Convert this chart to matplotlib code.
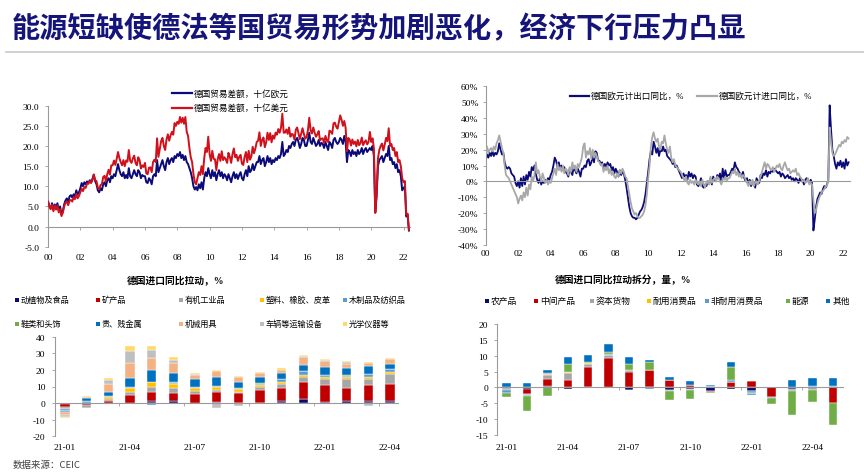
import numpy as np
import matplotlib
matplotlib.use("Agg")
import matplotlib.pyplot as plt
from matplotlib.lines import Line2D
from matplotlib.patches import Rectangle
from matplotlib.ticker import FuncFormatter

plt.rcParams['font.family'] = ['Liberation Serif', 'Noto Sans CJK SC']
plt.rcParams['axes.unicode_minus'] = False

W, H = 864, 477

# ---- top left: trade balance, monthly from 2000-01 ----
trade_eur = [
    6.4, 5.0, 4.5, 5.8, 4.2, 5.5, 4.5, 5.8, 4.0, 5.0, 3.0, 3.8,
    5.5, 6.5, 7.0, 6.0, 7.5, 7.8, 7.2, 8.0, 7.5, 9.0, 8.0, 8.5,
    9.5, 10.8, 10.0, 11.0, 10.5, 11.2, 10.8, 11.5, 11.0, 11.8, 12.9, 11.3,
    10.5, 9.0, 8.5, 9.5, 9.0, 10.5, 11.0, 10.0, 11.5, 12.0, 11.0, 12.5,
    12.0, 13.0, 12.5, 14.0, 15.5, 14.0, 13.0, 12.5, 13.5, 12.0, 12.8, 12.0,
    14.5, 12.5, 12.0, 13.0, 14.0, 13.0, 12.5, 14.0, 13.5, 12.0, 12.8, 12.5,
    12.5, 11.0, 10.8, 12.0, 11.5, 10.5, 12.5, 13.0, 12.5, 16.5, 13.5, 14.5,
    15.5, 16.5, 15.0, 14.0, 16.0, 17.0, 15.5, 16.5, 17.0, 16.0, 17.5, 17.0,
    18.0, 17.5, 18.5, 17.0, 17.8, 16.5, 17.5, 16.0, 15.5, 14.5, 13.5, 12.0,
    10.0, 9.2, 9.8, 9.0, 10.5, 9.5, 11.0, 9.2, 12.0, 13.5, 12.5, 14.5,
    13.0, 12.0, 14.0, 12.5, 13.5, 11.5, 13.0, 14.0, 12.5, 13.5, 12.0, 13.0,
    12.5, 11.5, 13.0, 12.0, 11.0, 12.5, 13.5, 12.0, 13.0, 11.8, 12.8, 13.5,
    12.0, 11.5, 13.0, 14.0, 12.5, 15.0, 13.5, 14.0, 15.5, 14.0, 15.0, 16.0,
    16.0, 17.5, 15.5, 16.5, 17.0, 15.0, 16.0, 17.5, 16.0, 17.0, 15.5, 16.5,
    16.0, 17.0, 16.5, 17.5, 17.0, 18.0, 21.0, 17.5, 18.0, 19.0, 18.5, 20.0,
    19.5, 20.5, 21.0, 20.0, 21.5, 22.0, 21.0, 19.5, 20.5, 22.0, 21.5, 20.0,
    20.0, 21.5, 23.3, 21.0, 20.5, 22.0, 21.0, 20.0, 20.5, 21.5, 20.0, 20.8,
    20.5, 19.5, 21.0, 20.0, 19.0, 21.0, 20.5, 19.5, 21.5, 22.0, 21.0, 20.5,
    21.0, 22.0, 21.5, 20.5, 22.5, 21.0, 16.0, 19.0, 18.5, 17.5, 19.0, 18.0,
    18.5, 17.5, 19.0, 18.0, 18.5, 19.5, 18.0, 19.0, 19.5, 18.5, 19.0, 19.5,
    19.0, 20.0, 17.5, 3.5, 7.5, 15.0, 16.5, 17.0, 17.5, 16.0, 17.0, 18.0,
    17.5, 20.0, 16.5, 17.0, 15.5, 16.0, 14.5, 15.5, 13.5, 14.0, 12.5, 9.0,
    9.5, 10.0, 2.5, 3.0, -1.0,
]
trade_usd = [
    6.2, 4.9, 4.3, 5.4, 3.8, 5.2, 4.2, 5.2, 3.5, 4.3, 2.6, 3.4,
    5.0, 5.9, 6.2, 5.3, 6.4, 6.6, 6.2, 7.2, 6.8, 8.1, 7.0, 7.6,
    8.5, 9.4, 8.8, 9.8, 9.6, 10.7, 10.6, 11.3, 10.8, 11.6, 12.9, 11.5,
    11.3, 9.7, 9.2, 10.3, 10.5, 12.3, 12.6, 11.2, 13.0, 14.1, 12.9, 15.2,
    15.2, 16.4, 15.3, 16.8, 18.5, 17.0, 16.0, 15.2, 16.5, 15.0, 16.4, 16.1,
    19.0, 16.3, 15.8, 16.9, 17.6, 15.8, 15.2, 17.2, 16.5, 14.4, 15.2, 14.8,
    15.8, 13.2, 13.0, 14.6, 14.7, 13.5, 16.0, 16.6, 16.0, 21.9, 17.3, 19.2,
    21.2, 22.0, 20.0, 19.0, 21.6, 22.9, 21.3, 22.6, 23.5, 22.8, 25.7, 25.0,
    26.0, 25.5, 27.2, 25.8, 27.0, 25.5, 27.2, 23.5, 22.5, 19.5, 17.2, 16.0,
    13.0, 11.0, 10.5, 12.0, 13.5, 12.8, 15.0, 13.0, 17.0, 19.5, 18.5, 22.3,
    18.0, 16.3, 18.8, 16.8, 16.7, 14.0, 16.7, 18.0, 16.3, 18.7, 16.5, 17.2,
    16.7, 15.8, 18.3, 17.3, 15.8, 18.0, 19.4, 17.2, 17.8, 16.3, 17.3, 17.8,
    15.6, 15.3, 17.3, 18.5, 16.0, 18.8, 16.6, 17.4, 19.8, 18.2, 19.4, 21.0,
    21.3, 23.4, 20.0, 21.5, 22.1, 19.7, 20.9, 23.3, 21.5, 23.2, 20.9, 22.6,
    21.8, 23.3, 22.8, 24.2, 23.3, 24.5, 28.0, 23.3, 23.3, 24.1, 23.0, 24.6,
    22.3, 23.0, 22.8, 21.6, 24.0, 24.6, 23.1, 21.7, 23.0, 24.4, 23.0, 21.8,
    22.2, 23.9, 27.0, 23.9, 23.1, 24.6, 23.3, 22.3, 22.9, 23.7, 21.4, 21.8,
    21.9, 20.7, 22.5, 21.4, 21.0, 23.8, 23.6, 23.0, 25.6, 25.8, 24.8, 24.3,
    26.0, 27.6, 26.5, 25.0, 26.2, 24.5, 18.7, 22.0, 21.6, 20.1, 21.6, 20.5,
    21.1, 19.9, 21.5, 20.2, 20.7, 22.1, 20.2, 21.0, 21.4, 20.4, 21.0, 23.5,
    21.0, 21.9, 19.4, 3.4, 8.2, 16.9, 19.0, 20.0, 20.6, 18.9, 20.3, 22.0,
    21.2, 24.4, 20.0, 20.5, 19.0, 19.5, 17.5, 18.5, 16.0, 16.5, 15.0, 12.0,
    11.0, 11.3, 3.0, 3.2, -0.8,
]

# ---- top right: export / import yoy %, monthly from 2000-01 ----
export_yoy = [
    13, 17, 15, 18, 16, 19, 16, 18, 17, 19, 24, 20,
    17, 18, 12, 9, 8, 9, 8, 5, 4, 3, -1, -3,
    0, -4, 2, -3, 3, -2, 4, 1, 6, 3, 9, 7,
    10, 5, 1, -1, 2, -2, 0, -1, 1, 0, 2, 1,
    4, 6, 10, 15, 13, 9, 12, 8, 10, 7, 9, 6,
    5, 3, 8, 6, 4, 9, 7, 5, 8, 6, 3, 8,
    8, 10, 9, 13, 14, 10, 12, 16, 12, 19, 18, 13,
    13, 11, 12, 8, 11, 9, 12, 10, 11, 7, 9, 5,
    8, 6, 3, 7, 4, 6, 5, 1, -4, -10, -16, -20,
    -22, -23, -23, -24, -23, -21, -19, -18, -16, -13, -8, -1,
    6, 14, 19, 17, 25, 22, 18, 21, 16, 20, 19, 22,
    19, 20, 16, 15, 14, 13, 11, 12, 9, 10, 8, 6,
    4, 2, 5, 3, 4, 1, 6, 3, 5, 2, 4, 3,
    -2, -3, -1, 2, -3, -4, -2, -3, 0, -1, 2, -2,
    3, 1, 0, 4, 2, 5, -1, 8, 2, 7, 3, 4,
    4, 6, 8, 7, 12, 9, 8, 6, 5, 3, 6, 2,
    0, 2, -2, 1, -3, 0, -1, -4, 2, 0, -1, 4,
    2, 5, 4, 7, 3, 6, 5, 7, 6, 8, 7, 6,
    5, 6, 3, 5, 4, 2, 3, 4, 2, 3, 1, 2,
    0, 2, 1, -1, 2, 0, 1, -2, 1, 2, 0, -1,
    1, -1, -31, -24, -16, -11, -9, -7, -8, -5, -3, -4,
    -2, 1, 48, 33, 20, 16, 11, 8, 12, 10, 13, 9,
    12, 8, 14, 10, 12,
]
import_yoy = [
    17, 22, 18, 20, 21, 19, 22, 20, 24, 26, 29, 25,
    21, 18, 10, 4, 3, 2, 0, -2, -4, -6, -8, -10,
    -14, -11, -9, -12, -7, -10, -4, -9, -2, -5, 3, 0,
    4, 12, 5, 7, 3, 0, 5, 2, -1, 1, -2, 0,
    -1, 2, 5, 8, 4, 11, 7, 9, 6, 10, 5, 8,
    7, 4, 9, 6, 12, 8, 10, 6, 11, 9, 12, 15,
    22, 24, 15, 19, 17, 21, 14, 20, 15, 18, 16, 13,
    12, 10, 11, 6, 9, 7, 10, 5, 8, 4, 6, 3,
    2, 5, 3, 7, 5, 8, 6, 3, 2, -3, -8, -13,
    -17, -19, -21, -20, -22, -23, -23, -22, -21, -19, -15, -8,
    2, 10, 22, 28, 31, 27, 25, 27, 22, 20, 25, 24,
    29, 24, 20, 18, 22, 15, 12, 14, 10, 9, 8, 7,
    6, 4, 2, 0, 3, -1, -2, 1, -1, 0, -2, 1,
    -1, -2, 0, -3, 1, -2, -4, 0, -1, -2, 3, -1,
    1, 2, 0, 3, 2, 0, -2, 2, 1, 3, 0, 2,
    2, 4, 6, 5, 8, 4, 6, 3, 5, 2, 4, 3,
    1, -1, -3, 0, -2, 1, -3, -1, 0, -2, 1, 3,
    6, 9, 12, 8, 11, 10, 8, 7, 9, 6, 8, 10,
    9, 11, 8, 7, 10, 12, 9, 7, 8, 5, 6, 7,
    6, 8, 4, 5, 3, 2, 0, 1, -1, 0, 2, -2,
    -1, -2, -12, -20, -18, -14, -11, -9, -7, -6, -5, -3,
    -3, 2, 34, 25, 18, 16, 17, 19, 21, 23, 22, 25,
    24, 26, 25, 28, 27,
]

# ---- bottom left: import contribution by product, 21-01 .. 22-04 ----
bl_months = ["21-01", "21-02", "21-03", "21-04", "21-05", "21-06", "21-07", "21-08",
             "21-09", "21-10", "21-11", "21-12", "22-01", "22-02", "22-03", "22-04"]
bl_names = ["动植物及食品", "矿产品", "有机工业品", "塑料、橡胶、皮革", "木制品及纺织品",
            "鞋类和头饰", "贵、贱金属", "机械用具", "车辆等运输设备", "光学仪器等"]
bl_colors = ["#0B0B6B", "#C00000", "#A6A6A6", "#FFC000", "#5B9BD5",
             "#70AD47", "#0070C0", "#F4B183", "#BFBFBF", "#FFD966"]
food = [-0.5, 0, 0.3, 0, 1.4, 1.2, 0.2, 0.8, 0, 0.3, 1.4, 2.2, 0.6, 1.2, 1.4, 1.4]
minerals = [-2.0, -1.2, 1.2, 4.8, 5.0, 4.8, 5.2, 5.6, 5.8, 7.5, 7.4, 10.8, 10.4, 7.6, 9.6, 10.0]
organic = [-1.0, -1.5, 1.2, 2.0, 3.6, 2.8, 1.6, 1.4, 1.0, 1.6, 3.0, 3.0, 3.4, 5.8, 3.4, 6.4]
plastics = [-0.3, 0.3, 1.0, 2.4, 2.8, 2.6, 1.8, 1.6, 1.6, 1.4, 1.2, 1.2, 1.4, 1.2, 1.2, 1.2]
wood_textile = [-0.7, 1.0, 0.5, 0.6, -1.2, 1.0, 1.0, 1.0, 0.8, 1.0, 1.4, 2.0, 1.2, 0.8, 2.0, 1.4]
footwear = [-0.5, 0.1, 0.1, 0.1, 0.2, 0.2, 0.1, 0.1, 0.1, 0.1, 0.2, 0.2, 0.2, 0.1, 0.2, 0.2]
metals = [-0.5, 1.5, 2.6, 5.2, 7.0, 5.6, 4.4, 5.4, 3.2, 3.6, 3.6, 3.6, 4.4, 4.4, 4.4, 3.2]
machinery = [-1.5, 1.0, 4.7, 8.8, 7.4, 5.8, 2.8, 3.6, 3.2, 2.6, 2.0, 4.6, 3.6, 2.4, 2.0, 2.8]
vehicles = [-1.5, -0.3, 2.2, 7.6, 4.6, 2.0, 0.6, -2.8, -2.0, -0.3, -0.8, 0.6, 0.8, 1.2, -1.6, -0.5]
optical = [-0.5, 0.3, 1.4, 2.6, 2.2, 1.6, 0.6, 0.6, 0.6, 0.6, 0.8, 0.8, 0.6, 0.6, 0.4, 0.6]
bl_series = [food, minerals, organic, plastics, wood_textile,
             footwear, metals, machinery, vehicles, optical]

# ---- bottom right: import contribution by use, 21-01 .. 22-05 ----
br_months = bl_months + ["22-05"]
br_names = ["农产品", "中间产品", "资本货物", "耐用消费品", "非耐用消费品", "能源", "其他"]
br_colors = ["#0B0B6B", "#C00000", "#A6A6A6", "#FFC000", "#5B9BD5", "#70AD47", "#0070C0"]
agri = [-0.3, -0.4, 0.6, -0.4, 0, 0.2, -0.7, 0, -0.7, -0.5, -1.0, -0.4, -1.0, 0, -0.4, 0, 0]
intermediate = [0, -1.7, 2.2, 2.5, 6.5, 9.0, 4.9, 5.6, 2.3, 0.8, -0.3, 1.6, 1.9, -2.9, 0, 0, -5.0]
capital = [-0.5, -0.4, 1.0, 1.9, 1.0, 1.0, 0.6, 0, -0.3, -0.3, 0, 0, -0.2, 0, -0.7, -0.8, 0]
durable = [0, 0, 0.4, 0.5, 0.3, 0, -0.2, 0, 0, 0, -0.2, 0, 0, 0.1, 0, 0, 0]
nondurable = [-0.8, -0.3, 0.2, 0, -0.3, 0.2, 0, -0.5, 0, 0, 0.5, 0.8, -0.4, -0.5, 0, 0.4, 0.5]
energy = [-1.3, -4.7, -2.8, 2.6, 0.2, 0.8, 1.9, 2.5, -2.9, -3.0, -0.4, 4.1, -0.4, -1.7, -7.7, -3.9, -6.8]
other = [1.3, 1.5, 1.2, 2.1, 2.3, 2.4, 2.1, 0.5, 1.0, 1.2, 0.3, 1.4, -0.4, 0, 2.4, 2.7, 2.6]
br_series = [agri, intermediate, capital, durable, nondurable, energy, other]

AXIS_GRAY = "#9A9A9A"


def fx(x):
    return x / W


def fy(y):
    return 1 - y / H


def hyphen_fmt(fmt):
    return FuncFormatter(lambda v, p: (fmt % v).replace("\u2212", "-"))


def style_axes(ax, xpad, ypad):
    for s in ["top", "right"]:
        ax.spines[s].set_visible(False)
    ax.spines["left"].set_color(AXIS_GRAY)
    ax.spines["bottom"].set_color(AXIS_GRAY)
    ax.spines["left"].set_linewidth(0.8)
    ax.spines["bottom"].set_linewidth(0.8)
    ax.spines["bottom"].set_position(("data", 0))
    ax.tick_params(axis="y", length=2, width=0.6, color=AXIS_GRAY, pad=ypad, labelsize=6.8)
    ax.tick_params(axis="x", which="major", width=0.6, color=AXIS_GRAY, pad=xpad, labelsize=6.8)
    ax.set_facecolor("none")


def stack_bars(ax, series, colors, width):
    n = len(series[0])
    x = np.arange(n)
    pos = np.zeros(n)
    neg = np.zeros(n)
    for vals, c in zip(series, colors):
        v = np.array(vals, dtype=float)
        bottom = np.where(v >= 0, pos, neg)
        ax.bar(x, v, width, bottom=bottom, color=c, edgecolor="white", linewidth=0.3, zorder=2)
        pos += np.clip(v, 0, None)
        neg += np.clip(v, None, 0)


def line_key(x0, x1, y, color, label, lw):
    fig.add_artist(Line2D([fx(x0), fx(x1)], [fy(y), fy(y)], color=color, lw=lw))
    fig.text(fx(x1 + 2), fy(y), label, va="center", fontsize=6.2)


def box_key(x, y, color, label, fs):
    fig.add_artist(Rectangle((fx(x - 2), fy(y + 2)), 4 / W, 4 / H, color=color, lw=0))
    fig.text(fx(x + 4), fy(y), label, va="center", fontsize=fs)


fig = plt.figure(figsize=(W / 100, H / 100), dpi=100)

# title
fig.text(fx(12), fy(29), "能源短缺使德法等国贸易形势加剧恶化，经济下行压力凸显",
         family=["Noto Sans CJK SC"], fontweight="bold", fontsize=20.3,
         color="#14147A", va="center")
fig.add_artist(Line2D([fx(6), 1.0], [fy(53), fy(53)], color="#C8C8C8", lw=1.2))

# ---- top left ----
t1 = 2000 + np.arange(len(trade_eur)) / 12
ax1 = fig.add_axes([fx(48), fy(247.7), 362 / W, 141 / H])
ax1.plot(t1, trade_eur, color="#0A0A78", lw=1.4, zorder=2)
ax1.plot(t1, trade_usd, color="#D0101A", lw=1.4, zorder=3)
ax1.set_xlim(2000, 2022.4)
ax1.set_ylim(-5, 30)
ax1.set_yticks(np.arange(-5, 31, 5))
ax1.yaxis.set_major_formatter(hyphen_fmt("%.1f"))
ax1.set_xticks(np.arange(2000, 2023, 2))
ax1.set_xticklabels([f"{y % 100:02d}" for y in range(2000, 2023, 2)])
style_axes(ax1, xpad=17.0, ypad=4.3)
ax1.tick_params(axis="x", length=2)
line_key(172, 192, 94, "#0A0A78", "德国贸易差额，十亿欧元", 1.6)
line_key(172, 192, 109, "#D0101A", "德国贸易差额，十亿美元", 1.6)

# ---- top right ----
t2 = 2000 + np.arange(len(export_yoy)) / 12
ax2 = fig.add_axes([fx(485.7), fy(245.7), 364 / W, 158.4 / H])
ax2.plot(t2, export_yoy, color="#0A0A78", lw=1.3, zorder=2)
ax2.plot(t2, import_yoy, color="#A8A8A8", lw=1.3, zorder=3)
ax2.set_xlim(2000, 2022.4)
ax2.set_ylim(-40, 60)
ax2.set_yticks(np.arange(-40, 61, 10))
ax2.yaxis.set_major_formatter(hyphen_fmt("%d%%"))
ax2.set_xticks(np.arange(2000, 2023, 2))
ax2.set_xticklabels([f"{y % 100:02d}" for y in range(2000, 2023, 2)])
style_axes(ax2, xpad=48.5, ypad=3.2)
ax2.tick_params(axis="x", length=0)
line_key(570, 589, 96.7, "#0A0A78", "德国欧元计出口同比，%", 1.6)
line_key(697, 717, 96.7, "#A8A8A8", "德国欧元计进口同比，%", 1.6)

# sub headings
fig.text(fx(176), fy(280), "德国进口同比拉动，%", ha="center", va="center",
         fontsize=7, fontweight="bold")
fig.text(fx(623), fy(280), "德国进口同比拉动拆分，量，%", ha="center", va="center",
         fontsize=7, fontweight="bold")

# ---- bottom left ----
ax3 = fig.add_axes([fx(55), fy(437.3), 343 / W, 99.6 / H])
stack_bars(ax3, bl_series, bl_colors, 0.42)
ax3.set_xlim(-0.46, 15.37)
ax3.set_ylim(-20, 40)
ax3.set_yticks(np.arange(-20, 41, 10))
ax3.yaxis.set_major_formatter(hyphen_fmt("%d"))
ax3.set_xticks(np.arange(0, len(bl_months), 3))
ax3.set_xticklabels(bl_months[::3])
ax3.set_xticks(np.arange(2.5, len(bl_months), 3), minor=True)
style_axes(ax3, xpad=29, ypad=5)
ax3.tick_params(axis="x", which="major", length=0)
ax3.tick_params(axis="x", which="minor", length=2, width=0.6, color=AXIS_GRAY)
bl_x = [16.7, 98, 181, 262, 345]
for i, (name, c) in enumerate(zip(bl_names, bl_colors)):
    box_key(bl_x[i % 5], 300.7 if i < 5 else 325, c, name, 5.9)

# ---- bottom right ----
ax4 = fig.add_axes([fx(496.7), fy(436), 346.3 / W, 111 / H])
stack_bars(ax4, br_series, br_colors, 0.42)
ax4.set_xlim(-0.49, 16.5)
ax4.set_ylim(-15, 20)
ax4.set_yticks(np.arange(-15, 21, 5))
ax4.yaxis.set_major_formatter(hyphen_fmt("%d"))
ax4.set_xticks(np.arange(0, len(br_months), 3))
ax4.set_xticklabels(br_months[::3])
ax4.set_xticks(np.arange(2.5, len(br_months), 3), minor=True)
style_axes(ax4, xpad=40, ypad=4.2)
ax4.tick_params(axis="x", which="major", length=0)
ax4.tick_params(axis="x", which="minor", length=2, width=0.6, color=AXIS_GRAY)
br_x = [486.7, 536, 592, 649, 707, 787.7, 828.3]
for xk, name, c in zip(br_x, br_names, br_colors):
    box_key(xk, 301.7, c, name, 6.3)

fig.text(fx(13), fy(465), "数据来源：CEIC", family=["Noto Sans CJK SC"],
         fontsize=6.8, color="#404040", va="center")

fig.savefig("out.png", dpi=100)
